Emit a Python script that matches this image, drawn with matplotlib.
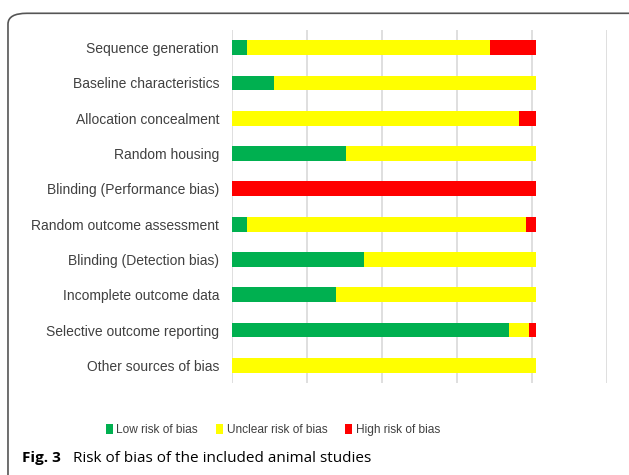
import numpy as np
import matplotlib.pyplot as plt
from matplotlib.patches import FancyBboxPatch

categories = ["Sequence generation", "Baseline characteristics", "Allocation concealment",
              "Random housing", "Blinding (Performance bias)", "Random outcome assessment",
              "Blinding (Detection bias)", "Incomplete outcome data",
              "Selective outcome reporting", "Other sources of bias"]
low = [4.9, 13.8, 0.0, 37.5, 0.0, 4.9, 43.3, 34.0, 91.1, 0.0]
unclear = [79.9, 86.2, 94.1, 62.5, 0.0, 91.7, 56.7, 66.0, 6.4, 100.0]
high = [15.2, 0.0, 5.9, 0.0, 100.0, 3.4, 0.0, 0.0, 2.5, 0.0]
series_names = ["Low risk of bias", "Unclear risk of bias", "High risk of bias"]
colors = ["#00B050", "#FFFF00", "#FF0000"]

plt.rcParams['font.family'] = ['Liberation Sans', 'DejaVu Sans']

fig = plt.figure(figsize=(6.29, 4.75), dpi=100)
ax = fig.add_axes([0.3693, 0.1937, 0.5953, 0.7431])

y = np.arange(len(categories))
left = np.zeros(len(categories))
handles = []
for vals, name, c in zip([low, unclear, high], series_names, colors):
    b = ax.barh(y, vals, left=left, height=0.42, color=c, label=name, zorder=3)
    handles.append(b)
    left = left + np.array(vals)

ax.set_ylim(len(categories) - 0.5, -0.5)
ax.set_xlim(0, 123.1)
ax.set_xticks(np.linspace(0, 123.1, 6))
ax.xaxis.grid(True, color="#d9d9d9", linewidth=1.2, zorder=0)
ax.tick_params(axis="x", length=0, labelbottom=False)
ax.tick_params(axis="y", length=0, pad=9.5)
ax.set_yticks(y)
ax.set_yticklabels(categories, fontsize=10, color="#404040")
for s in ax.spines.values():
    s.set_visible(False)

fig.legend(handles=handles, loc="center", bbox_to_anchor=(0.434, 0.0947), ncol=3,
           frameon=False, fontsize=8.6, handlelength=0.6, handleheight=1.0,
           handletextpad=0.3, columnspacing=1.5, labelcolor="#404040")

box = FancyBboxPatch((0.0127, -0.2), 1.2, 1.172, boxstyle="round,pad=0,rounding_size=0.03",
                     transform=fig.transFigure, facecolor="none", edgecolor="#555555",
                     linewidth=1.2, mutation_aspect=475 / 629)
fig.patches.append(box)

fig.text(0.035, 0.028, "Fig. 3", fontsize=11, fontweight="bold", family="Open Sans")
fig.text(0.116, 0.028, "Risk of bias of the included animal studies", fontsize=11,
         family="Open Sans")

plt.savefig("out.png", dpi=100)
